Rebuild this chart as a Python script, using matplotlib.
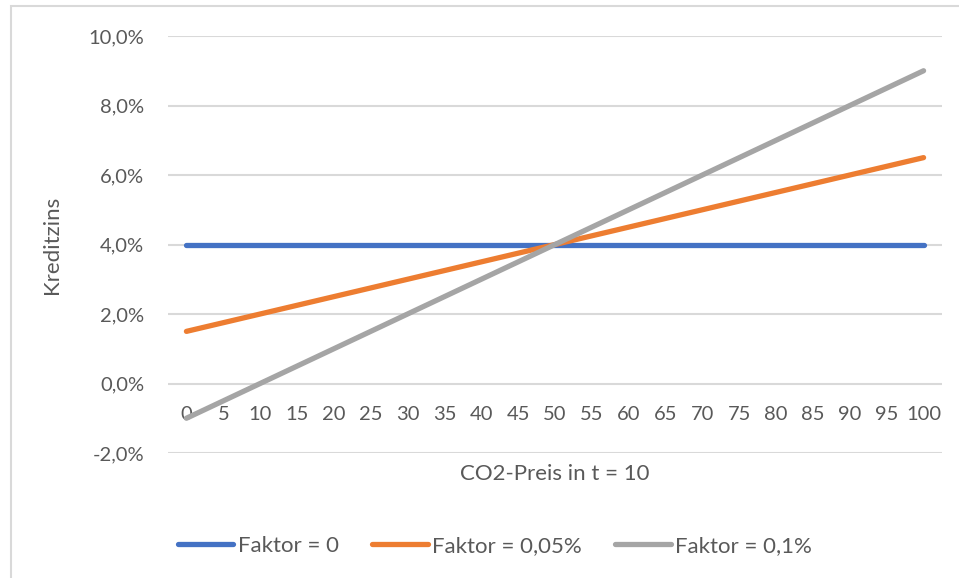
import matplotlib.pyplot as plt
from matplotlib.patches import Rectangle
from matplotlib.ticker import FuncFormatter

# CO2 price categories (x axis)
co2_prices = [0, 5, 10, 15, 20, 25, 30, 35, 40, 45, 50,
              55, 60, 65, 70, 75, 80, 85, 90, 95, 100]

# Kreditzins in % for each factor
faktor_0 = [4.0] * 21
faktor_005 = [1.5, 1.75, 2.0, 2.25, 2.5, 2.75, 3.0, 3.25, 3.5, 3.75, 4.0,
              4.25, 4.5, 4.75, 5.0, 5.25, 5.5, 5.75, 6.0, 6.25, 6.5]
faktor_01 = [-1.0, -0.5, 0.0, 0.5, 1.0, 1.5, 2.0, 2.5, 3.0, 3.5, 4.0,
             4.5, 5.0, 5.5, 6.0, 6.5, 7.0, 7.5, 8.0, 8.5, 9.0]

series = [('Faktor = 0', faktor_0, '#4472C4'),
          ('Faktor = 0,05%', faktor_005, '#ED7D31'),
          ('Faktor = 0,1%', faktor_01, '#A5A5A5')]

y_ticks = [-2, 0, 2, 4, 6, 8, 10]

text_color = '#595959'
grid_color = '#D9D9D9'
plt.rcParams['font.family'] = ['Lato', 'DejaVu Sans']

fig = plt.figure(figsize=(9.59, 5.78), dpi=100)
fig.patches.append(Rectangle((11 / 959, -0.1), 1.1, 1 - 6 / 578 + 0.1,
                             transform=fig.transFigure, fill=False,
                             edgecolor=grid_color, lw=1.5))

ax = fig.add_axes([168 / 959, 1 - 453 / 578, 774 / 959, 417 / 578])
pos = list(range(len(co2_prices)))
for label, vals, color in series:
    ax.plot(pos, vals, color=color, lw=3.8, solid_capstyle='round', label=label, zorder=3)

ax.set_xlim(-0.5, len(co2_prices) - 0.5)
ax.set_ylim(-2, 10)
ax.set_yticks(y_ticks)
ax.yaxis.set_major_formatter(FuncFormatter(lambda v, p: f'{v:.1f}%'.replace('.', ',')))
ax.grid(axis='y', color=grid_color, lw=1.5, zorder=0)
ax.set_axisbelow(True)

ax.set_xticks(pos)
ax.set_xticklabels([str(c) for c in co2_prices])
for s in ['top', 'right', 'left']:
    ax.spines[s].set_visible(False)
ax.spines['bottom'].set_position(('data', 0))
ax.spines['bottom'].set_visible(False)
ax.tick_params(axis='both', length=0, labelsize=14.5, labelcolor=text_color)
ax.tick_params(axis='x', pad=16)
ax.tick_params(axis='y', pad=17)

ax.set_ylabel('Kreditzins', fontsize=16, color=text_color)
ax.yaxis.set_label_coords(-0.137, 0.5)
fig.text(555 / 959, 1 - 474 / 578, 'CO2-Preis in t = 10', ha='center', va='center',
         fontsize=16, color=text_color)

fig.legend(loc='center', bbox_to_anchor=(495 / 959, 1 - 546 / 578), ncol=3,
           frameon=False, fontsize=16, labelcolor=text_color,
           handlelength=2.5, handletextpad=0.2, columnspacing=1.5)

fig.savefig('out.png', dpi=100)
